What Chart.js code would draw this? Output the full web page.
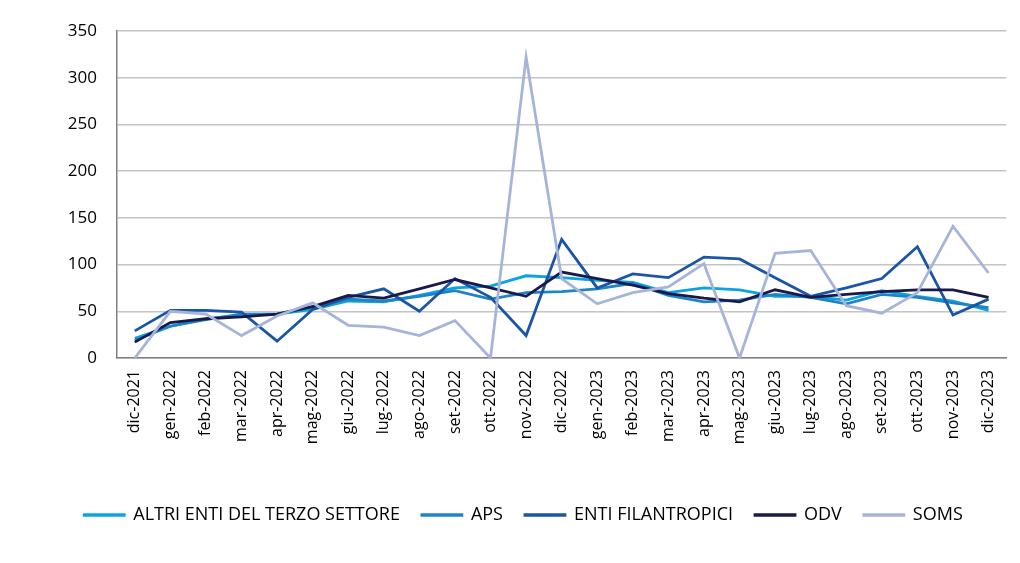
<!DOCTYPE html>
<html>
<head>
<meta charset="utf-8">
<script src="https://cdn.jsdelivr.net/npm/chart.js@4.4.1/dist/chart.umd.min.js"></script>
<style>
  html, body { margin: 0; padding: 0; background: #fff; }
  #wrap { width: 1020px; height: 563px; position: relative; }
</style>
</head>
<body>
<div id="wrap"><canvas id="chart" width="1020" height="563"></canvas></div>
<script>
const mesi = ['dic-2021','gen-2022','feb-2022','mar-2022','apr-2022','mag-2022','giu-2022','lug-2022','ago-2022','set-2022','ott-2022','nov-2022',
  'dic-2022','gen-2023','feb-2023','mar-2023','apr-2023','mag-2023','giu-2023','lug-2023','ago-2023','set-2023','ott-2023','nov-2023','dic-2023'];

const altriEnti = [21, 34, 42, 46, 47, 52, 61, 60, 67, 75, 77, 88, 86, 83, 81, 70, 75, 73, 66, 66, 62, 72, 66, 61, 51];
const aps       = [19, 34, 41, 47, 47, 55, 63, 61, 66, 72, 63, 70, 71, 74, 80, 67, 60, 62, 68, 65, 58, 68, 65, 59, 54];
const entiFil   = [29, 51, 51, 49, 18, 52, 65, 74, 50, 85, 65, 24, 127, 75, 90, 86, 108, 106, 86, 66, 75, 85, 119, 46, 63];
const odv       = [17, 38, 42, 44, 47, 55, 67, 64, 74, 84, 75, 66, 92, 85, 78, 69, 64, 60, 73, 65, 68, 71, 73, 73, 65];
const soms      = [0, 50, 47, 24, 45, 59, 35, 33, 24, 40, 0, 322, 85, 58, 70, 76, 101, 0, 112, 115, 56, 48, 70, 141, 91];

const yTicks = [0, 50, 100, 150, 200, 250, 300, 350];

function serie(label, data, col, ord) {
  return {
    label: label,
    data: data,
    borderColor: col,
    backgroundColor: col,
    borderWidth: 2.8,
    pointRadius: 0,
    tension: 0,
    order: ord
  };
}

new Chart(document.getElementById('chart'), {
  type: 'line',
  data: {
    labels: mesi,
    datasets: [
      serie('ALTRI ENTI DEL TERZO SETTORE', altriEnti, '#0BA3E2', 5),
      serie('APS', aps, '#1F84C6', 4),
      serie('ENTI FILANTROPICI', entiFil, '#1B55A5', 3),
      serie('ODV', odv, '#1A1A4A', 2),
      serie('SOMS', soms, '#A7B4DA', 1)
    ]
  },
  options: {
    responsive: false,
    animation: false,
    layout: { padding: { top: 31, right: 13, bottom: 29, left: 40 } },
    plugins: {
      tooltip: { enabled: false },
      legend: {
        position: 'bottom',
        labels: {
          boxWidth: 40,
          boxHeight: 0.5,
          padding: 22,
          color: '#000',
          font: { family: 'Open Sans', size: 18 },
          sort: (a, b) => a.datasetIndex - b.datasetIndex
        }
      }
    },
    scales: {
      x: {
        offset: true,
        grid: { display: false, drawTicks: false },
        border: { color: '#808080', width: 1.5 },
        ticks: {
          minRotation: 90,
          maxRotation: 90,
          autoSkip: false,
          padding: 12,
          color: '#000',
          font: { family: 'Open Sans', size: 16 }
        },
        afterFit: function(s) { s.height = 126; }
      },
      y: {
        min: 0,
        max: 350,
        afterBuildTicks: function(s) { s.ticks = yTicks.map(v => ({ value: v })); },
        grid: { color: '#C4C4C4', lineWidth: 1.5, drawTicks: false },
        border: { color: '#808080', width: 1.5 },
        ticks: {
          padding: 20,
          color: '#000',
          font: { family: 'Open Sans', size: 17 }
        },
        afterFit: function(s) { s.width = 77; }
      }
    }
  }
});
</script>
</body>
</html>
